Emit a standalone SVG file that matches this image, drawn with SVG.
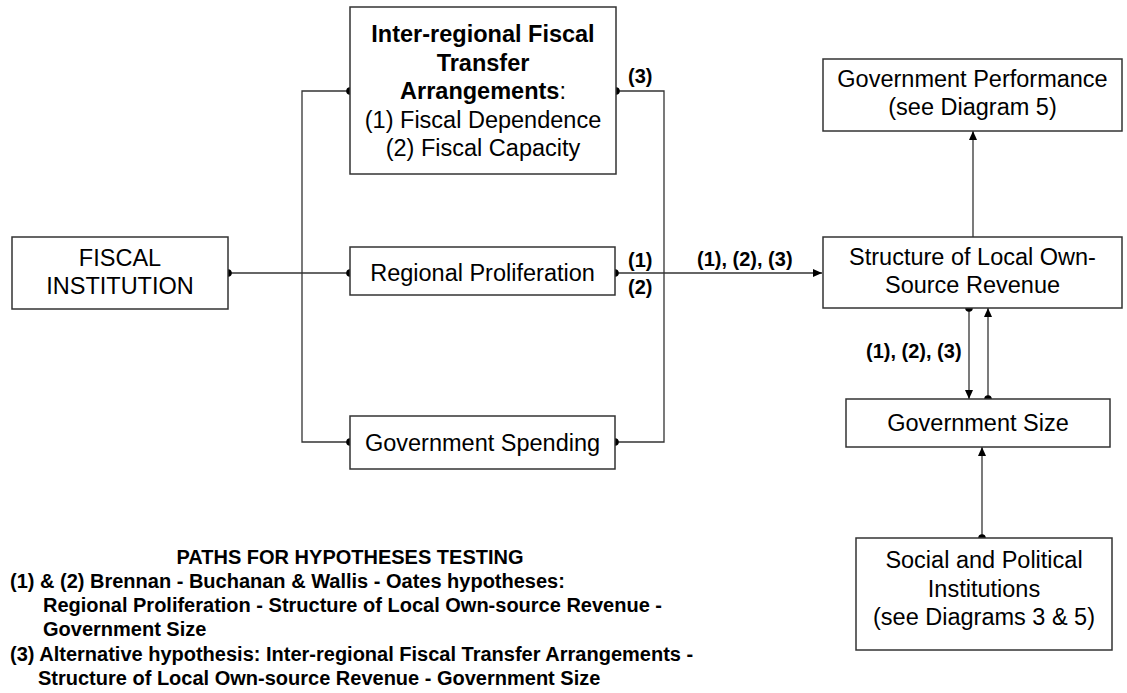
<svg xmlns="http://www.w3.org/2000/svg" width="1127" height="693" viewBox="0 0 1127 693">
<defs>
<marker id="ah" viewBox="0 0 9 8" refX="9" refY="4" markerWidth="9" markerHeight="8" markerUnits="userSpaceOnUse" orient="auto">
<path d="M0,0 L9,4 L0,8 Z" fill="#000"/>
</marker>
<style>
.box{fill:#fff;stroke:#333;stroke-width:1.5}
.t{font-family:"Liberation Sans",Arial,sans-serif;font-size:23.5px;fill:#000;text-anchor:middle}
.b{font-weight:bold}
.lbl{font-family:"Liberation Sans",Arial,sans-serif;font-size:20px;font-weight:bold;fill:#000}
.note{font-family:"Liberation Sans",Arial,sans-serif;font-size:20px;font-weight:bold;fill:#000}
.ln{fill:none;stroke:#333;stroke-width:1.3}
.dot{fill:#000}
</style>
</defs>
<rect width="1127" height="693" fill="#fff"/>

<g id="connectors">
<path class="ln" d="M228,273 H350"/>
<path class="ln" d="M350,91 H302 V442 H350"/>
<path class="ln" d="M616,91 H664 V442 H615"/>
<path class="ln" d="M615,273 H822" marker-end="url(#ah)"/>
<path class="ln" d="M973,237 V131" marker-end="url(#ah)"/>
<path class="ln" d="M969,308 V399" marker-end="url(#ah)"/>
<path class="ln" d="M988,399 V308" marker-end="url(#ah)"/>
<path class="ln" d="M982,538 V447" marker-end="url(#ah)"/>
<circle class="dot" cx="228" cy="273" r="3.8"/>
<circle class="dot" cx="350" cy="91" r="3.8"/>
<circle class="dot" cx="616" cy="91" r="3.8"/>
<circle class="dot" cx="350" cy="273" r="3.8"/>
<circle class="dot" cx="615" cy="273" r="3.8"/>
<circle class="dot" cx="350" cy="442" r="3.8"/>
<circle class="dot" cx="615" cy="442" r="3.8"/>
<circle class="dot" cx="969" cy="308" r="3.8"/>
<circle class="dot" cx="988" cy="399" r="3.8"/>
<circle class="dot" cx="982" cy="538" r="3.8"/>
<text class="lbl" x="628" y="83">(3)</text>
<text class="lbl" x="628" y="267">(1)</text>
<text class="lbl" x="628" y="294">(2)</text>
<text class="lbl" x="697" y="266">(1), (2), (3)</text>
<text class="lbl" x="866" y="358">(1), (2), (3)</text>
</g>

<g id="fiscal-institution">
<rect class="box" x="12" y="237" width="216" height="72"/>
<text class="t" x="120" y="266">FISCAL</text>
<text class="t" x="120" y="294">INSTITUTION</text>
</g>

<g id="inter-regional">
<rect class="box" x="350" y="7" width="266" height="167"/>
<text class="t b" x="483" y="42">Inter-regional Fiscal</text>
<text class="t b" x="483" y="70.5">Transfer</text>
<text class="t" x="483" y="99"><tspan class="b">Arrangements</tspan>:</text>
<text class="t" x="483" y="127.5">(1) Fiscal Dependence</text>
<text class="t" x="483" y="156">(2) Fiscal Capacity</text>
</g>

<g id="regional-proliferation">
<rect class="box" x="350" y="247" width="265" height="48"/>
<text class="t" x="482.5" y="281">Regional Proliferation</text>
</g>

<g id="government-spending">
<rect class="box" x="350" y="416" width="265" height="53"/>
<text class="t" x="482.5" y="451">Government Spending</text>
</g>

<g id="government-performance">
<rect class="box" x="823" y="59" width="299" height="72"/>
<text class="t" x="972.5" y="87">Government Performance</text>
<text class="t" x="972.5" y="115">(see Diagram 5)</text>
</g>

<g id="structure-revenue">
<rect class="box" x="823" y="237" width="299" height="71"/>
<text class="t" x="972.5" y="265">Structure of Local Own-</text>
<text class="t" x="972.5" y="293">Source Revenue</text>
</g>

<g id="government-size">
<rect class="box" x="846" y="399" width="264" height="48"/>
<text class="t" x="978" y="431">Government Size</text>
</g>

<g id="social-political">
<rect class="box" x="856" y="538" width="256" height="112"/>
<text class="t" x="984" y="568">Social and Political</text>
<text class="t" x="984" y="597">Institutions</text>
<text class="t" x="984" y="625">(see Diagrams 3 &amp; 5)</text>
</g>

<g id="notes">
<text class="note" x="350" y="564" text-anchor="middle">PATHS FOR HYPOTHESES TESTING</text>
<text class="note" x="10" y="588">(1) &amp; (2) Brennan - Buchanan &amp; Wallis - Oates hypotheses:</text>
<text class="note" x="43" y="612">Regional Proliferation - Structure of Local Own-source Revenue -</text>
<text class="note" x="43" y="636">Government Size</text>
<text class="note" x="10" y="661">(3) Alternative hypothesis: Inter-regional Fiscal Transfer Arrangements -</text>
<text class="note" x="38" y="685">Structure of Local Own-source Revenue - Government Size</text>
</g>
</svg>
